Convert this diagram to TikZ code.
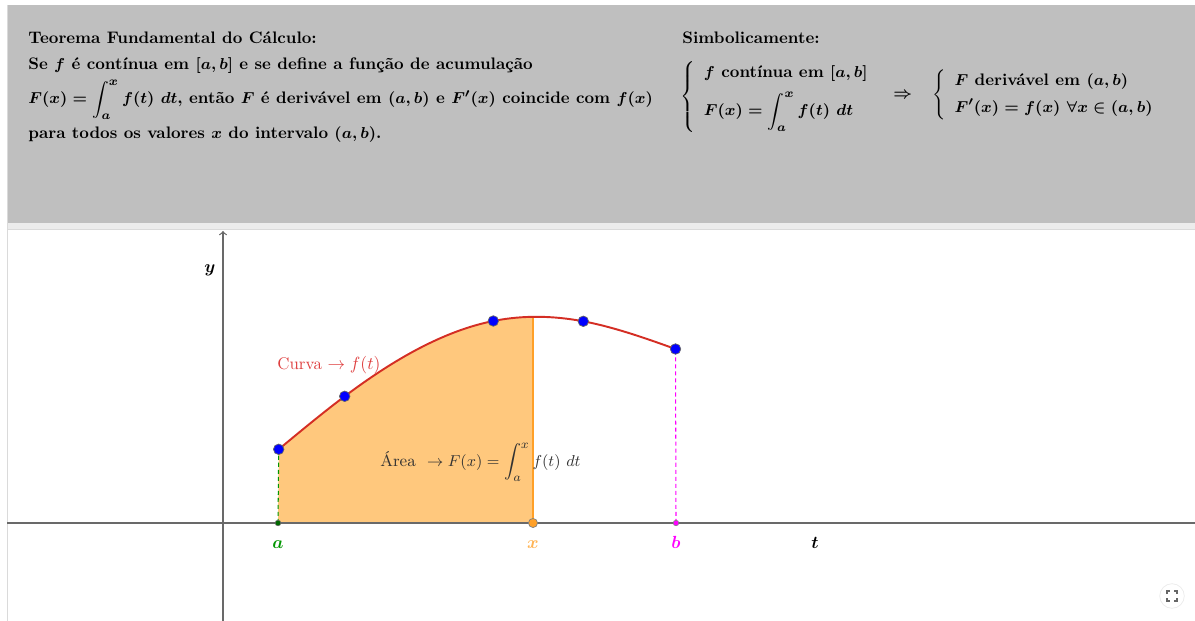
\documentclass[tikz,border=0pt]{standalone}
\usepackage{amsmath}
\usepackage{amssymb}
\usepackage{tikz}

\definecolor{painel}{RGB}{191,191,191}
\definecolor{faixa}{RGB}{236,236,236}
\definecolor{borda}{RGB}{218,218,218}
\definecolor{eixo}{RGB}{105,105,105}
\definecolor{curva}{RGB}{212,46,36}
\definecolor{rotcurva}{RGB}{222,62,62}
\definecolor{areaclara}{RGB}{255,200,125}
\definecolor{laranja}{RGB}{255,160,40}
\definecolor{verdea}{RGB}{0,150,0}
\definecolor{rosa}{RGB}{255,0,255}
\definecolor{cinzatexto}{RGB}{50,50,50}

\tikzset{
  texto/.style={anchor=base west, inner sep=0pt, font=\fontsize{9.5}{11.5}\selectfont\bfseries\boldmath},
  rotulo/.style={inner sep=1pt, font=\boldmath},
  ponto/.style={fill=blue, draw=black!60, line width=0.4pt},
  tracejado/.style={dash pattern=on 2.3pt off 1.7pt, line width=0.6pt},
}

% curva f(t) passando pelos pontos azuis
\newcommand{\caminhocurva}{(P1) .. controls (300.7,431.1) and (322.7,412.8) .. (P2)
  .. controls (394.2,359.2) and (443.8,330.9) .. (P3)
  .. controls (523.3,315.0) and (553.3,315.7) .. (P4)
  .. controls (614.0,327.1) and (644.8,338.0) .. (P5)}

\begin{document}
\begin{tikzpicture}[x=0.02cm,y=-0.02cm]
  \useasboundingbox (0,0) rectangle (1195,621);
  % painel de cima
  \fill[painel] (7,5) rectangle (1195,223);
  \fill[faixa] (7,223) rectangle (1195,229);
  \draw[borda] (7,229) -- (1195,229);
  \draw[borda] (7,5) -- (7,621);

  \node[texto] (tit) at (28,44) {Teorema Fundamental do Cálculo:};
  \node[texto] (hip) at (28,70) {Se $f$ é contínua em $[a,b]$ e se define a função de acumulação};
  \node[texto] (tese) at (28,104) {$F(x)=\displaystyle\int_a^x f(t)\ dt$, então $F$ é derivável em $(a,b)$ e $F'(x)$ coincide com $f(x)$};
  \node[texto] (fim) at (28,139) {para todos os valores $x$ do intervalo $(a,b)$.};

  \node[texto] (simb) at (682,44) {Simbolicamente:};
  \node[texto, anchor=west] (sis1) at (680,97) {$\left\{\begin{array}{l}f\text{ contínua em }[a,b]\\[5pt] F(x)=\displaystyle\int_a^x f(t)\ dt\end{array}\right.$};
  \node[texto, anchor=west] (impl) at (893,95) {$\Rightarrow$};
  \node[texto, anchor=west] (sis2) at (932,95) {$\left\{\begin{array}{l}F\text{ derivável em }(a,b)\\[4pt] F'(x)=f(x)\ \forall x\in(a,b)\end{array}\right.$};

  % grafico
  \coordinate (O) at (223,523);
  \coordinate (A) at (278,523);
  \coordinate (X) at (533,523);
  \coordinate (B) at (676,523);
  \coordinate (P1) at (278.7,449.3);
  \coordinate (P2) at (344.7,396.3);
  \coordinate (P3) at (493.3,321);
  \coordinate (P4) at (583.3,321.3);
  \coordinate (P5) at (675.5,349);

  \begin{scope}
    \clip \caminhocurva |- (A) -- cycle;
    \fill[areaclara] (270,290) rectangle (X);
    \draw[laranja, line width=1pt] (533,290) -- (X);
  \end{scope}

  \draw[eixo, line width=0.7pt] (7,523) -- (1195,523);
  \draw[eixo, line width=0.7pt, ->] (223,621) -- (223,231);

  \draw[verdea, tracejado] (A) -- (P1);
  \draw[rosa, tracejado] (B) -- (P5);
  \draw[curva, line width=1.1pt] \caminhocurva;

  \foreach \p in {P1,P2,P3,P4,P5}
    \draw[ponto] (\p) circle (3pt);
  \draw[fill=verdea!70!black, draw=black!60, line width=0.3pt] (A) circle (1.6pt);
  \draw[fill=laranja, draw=black!50, line width=0.4pt] (X) circle (2.6pt);
  \draw[fill=rosa, draw=black!50, line width=0.3pt] (B) circle (1.6pt);

  \node[rotulo, text=verdea] (la) at (278,545) {$a$};
  \node[rotulo, text=laranja!80] (lx) at (533,545) {$x$};
  \node[rotulo, text=rosa] (lb) at (676,542) {$b$};
  \node[rotulo] (lt) at (815,543) {$t$};
  \node[rotulo] (ly) at (210,270) {$y$};

  \node[text=rotcurva, anchor=west, inner sep=0pt, font=\fontsize{9.6}{11}\selectfont] (lcurva) at (277,365) {Curva $\rightarrow f(t)$};
  \node[text=cinzatexto, anchor=base west, inner sep=0pt, font=\fontsize{9.4}{11}\selectfont] (larea) at (380,466) {Área $\ \rightarrow F(x)=\displaystyle\int_a^x f(t)\ dt$};

  % botao de tela cheia
  \node[circle, draw=black!8, fill=white, minimum size=14pt] (tela) at (1172,596) {};
  \foreach \sx in {-1,1}
    \foreach \sy in {-1,1}
      \draw[black!60, line width=0.8pt] (\sx*5+1172, \sy*2+596) -- (\sx*5+1172, \sy*5+596) -- (\sx*2+1172, \sy*5+596);
\end{tikzpicture}
\end{document}
